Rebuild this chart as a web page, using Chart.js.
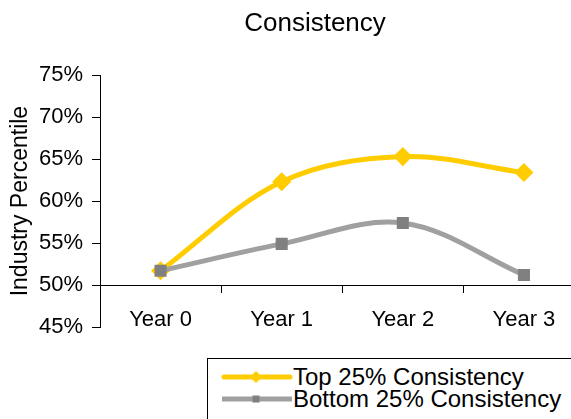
<!DOCTYPE html>
<html>
<head>
<meta charset="utf-8">
<script src="https://cdn.jsdelivr.net/npm/chart.js@4"></script>
<style>
  html, body { margin: 0; padding: 0; background: #fff; }
  #wrap { position: relative; width: 571px; height: 419px; overflow: hidden; }
  #myChart { position: absolute; left: 0; top: 0; }
  #legend {
    position: absolute; left: 207px; top: 358px; width: 420px; height: 100px;
    border: 1px solid #000; background: #fff;
    font-family: "Liberation Sans", Arial, sans-serif; font-size: 24px; color: #000;
  }
  .row { position: absolute; left: 13px; height: 24px; display: flex; align-items: center; white-space: nowrap; }
</style>
</head>
<body>
<div id="wrap">
  <canvas id="myChart" width="630" height="419"></canvas>
  <div id="legend">
    <div class="row" style="top:6px">
      <svg width="72" height="20"><line x1="3" y1="10" x2="69" y2="10" stroke="#FFCC00" stroke-width="5" stroke-linecap="round"/><polygon points="35,4 41,10 35,16 29,10" fill="#FFCC00"/></svg>Top 25% Consistency
    </div>
    <div class="row" style="top:28px">
      <svg width="72" height="20"><line x1="1" y1="10" x2="71" y2="10" stroke="#A0A0A0" stroke-width="5"/><rect x="31.5" y="6.5" width="7" height="7" fill="#808080"/></svg>Bottom 25% Consistency
    </div>
  </div>
</div>
<script>
  const categories = ['Year 0', 'Year 1', 'Year 2', 'Year 3'];
  const top25 = [51.7, 62.3, 65.3, 63.4];
  const bottom25 = [51.7, 54.9, 57.4, 51.2];
  const yTicks = [45, 50, 55, 60, 65, 70, 75];

  Chart.defaults.font.family = '"Liberation Sans", Arial, sans-serif';
  Chart.defaults.color = '#000';

  const ctx = document.getElementById('myChart');

  new Chart(ctx, {
    type: 'line',
    data: {
      labels: categories,
      datasets: [{
        label: 'Top 25% Consistency',
        data: top25,
        borderColor: '#FFCC00',
        borderWidth: 5,
        pointStyle: 'rectRot',
        pointRadius: 6,
        pointBackgroundColor: '#FFCC00',
        pointBorderColor: '#FFCC00',
        tension: 0.35,
        order: 1
      }, {
        label: 'Bottom 25% Consistency',
        data: bottom25,
        borderColor: '#A0A0A0',
        borderWidth: 5,
        pointStyle: 'rect',
        pointRadius: 5,
        pointBackgroundColor: '#808080',
        pointBorderColor: '#808080',
        tension: 0.35,
        order: 0
      }]
    },
    options: {
      responsive: false,
      animation: false,
      layout: { padding: { left: 0, right: 0, top: 0, bottom: 92 } },
      plugins: {
        legend: { display: false },
        tooltip: { enabled: false },
        title: {
          display: true,
          text: 'Consistency',
          color: '#000',
          font: { size: 26, weight: 'normal' },
          padding: { top: 8, bottom: 36 }
        }
      },
      scales: {
        x: {
          position: { y: 50 },
          offset: true,
          grid: { offset: true, drawOnChartArea: false, drawTicks: true, tickLength: 7, color: '#000' },
          border: { display: true, color: '#000', width: 1 },
          ticks: { padding: 15, font: { size: 22 }, maxRotation: 0, autoSkip: false }
        },
        y: {
          min: 45,
          max: 75,
          afterBuildTicks: s => { s.ticks = yTicks.map(v => ({ value: v })); },
          afterFit: s => { s.width = 100; },
          grid: { drawOnChartArea: false, drawTicks: true, tickLength: 8, color: '#000' },
          border: { display: true, color: '#000', width: 1 },
          ticks: { padding: 9, font: { size: 22 }, callback: v => v + '%' },
          title: {
            display: true,
            text: 'Industry Percentile',
            font: { size: 23 },
            padding: { top: 7, bottom: 0 }
          }
        },
        // empty right-hand space, so the plot ends where the original does
        spacer: {
          position: 'right',
          grid: { display: false },
          border: { display: false },
          ticks: { display: false },
          afterFit: s => { s.width = 45.5; }
        }
      }
    }
  });
</script>
</body>
</html>
